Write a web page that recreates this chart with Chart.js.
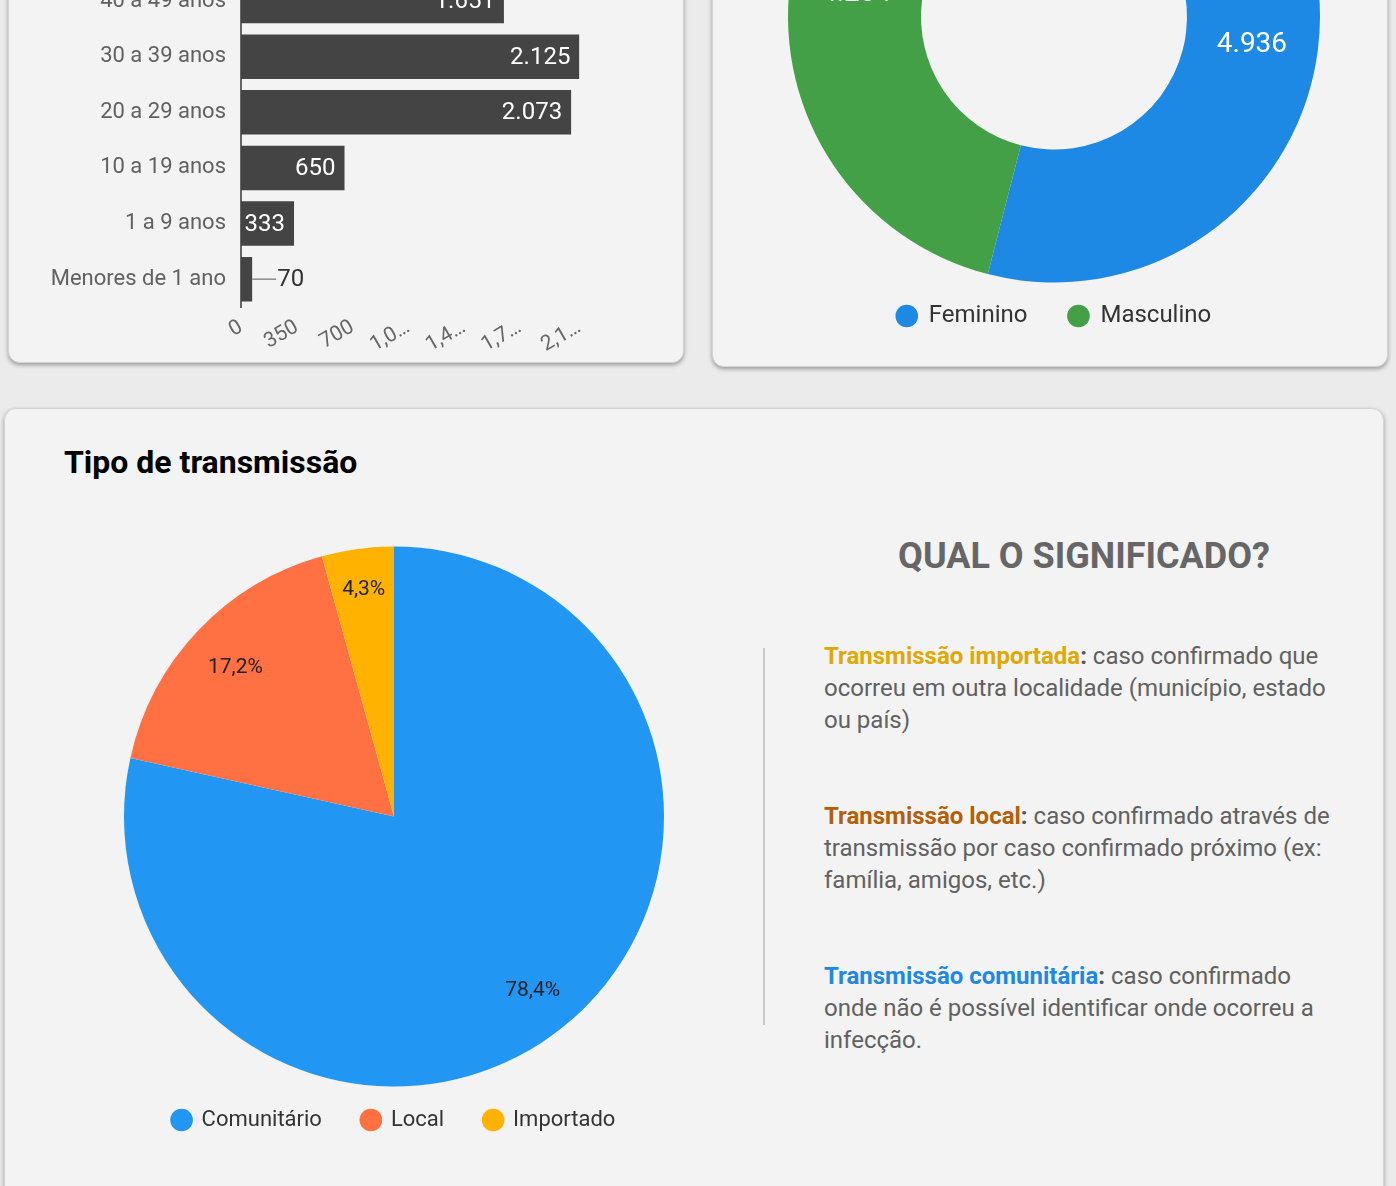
<!DOCTYPE html>
<html lang="pt-BR">
<head>
<meta charset="utf-8">
<title>Painel COVID-19</title>
<script src="https://cdn.jsdelivr.net/npm/chart.js@4.4.1/dist/chart.umd.min.js"></script>
<style>
  html, body { margin: 0; padding: 0; }
  body {
    width: 1396px; height: 1186px; overflow: hidden; position: relative;
    background: #ebebeb; font-family: Roboto, "Noto Sans", sans-serif;
  }
  .card {
    position: absolute; box-sizing: border-box; background: #f3f3f3;
    border: 1px solid #d4d4d4; border-radius: 12px;
    box-shadow: 0 2px 4px rgba(0,0,0,0.35);
  }
  #cardAge { left: 8px; top: -400px; width: 676px; height: 763px; }
  #cardSex { left: 712px; top: -400px; width: 676px; height: 767px; }
  #cardTrans { left: 4px; top: 408px; width: 1380px; height: 900px; }
  canvas { position: absolute; }
  #ageChart { left: 0px; top: -55.2px; }
  #sexChart { left: 754px; top: -260.5px; }
  #transChart { left: 94px; top: 534px; }
  .title {
    position: absolute; left: 64px; top: 442px; font-size: 32px; line-height: 40px;
    font-weight: 700; color: #000; white-space: nowrap;
  }
  .qual {
    position: absolute; left: 884px; top: 534px; width: 400px; text-align: center;
    font-size: 36px; line-height: 44px; font-weight: 700; color: #666; white-space: nowrap;
  }
  .divider { position: absolute; left: 763px; top: 648px; width: 2px; height: 377px; background: #c9c9c9; }
  .para {
    position: absolute; left: 824px; font-size: 24px; line-height: 32px; color: #616161; white-space: nowrap;
  }
  .para b { font-weight: 700; }
  .para .c { color: #555; font-weight: 700; }
</style>
</head>
<body>
<div class="card" id="cardAge"></div>
<div class="card" id="cardSex"></div>
<div class="card" id="cardTrans"></div>

<canvas id="ageChart" width="600" height="422"></canvas>
<canvas id="sexChart" width="600" height="598"></canvas>
<canvas id="transChart" width="600" height="607"></canvas>

<div class="title">Tipo de transmissão</div>
<div class="qual">QUAL O SIGNIFICADO?</div>
<div class="divider"></div>
<div class="para" style="top:640px"><b style="color:#e0a800">Transmissão importada</b><span class="c">:</span> caso confirmado que<br>ocorreu em outra localidade (município, estado<br>ou país)</div>
<div class="para" style="top:800px"><b style="color:#b45f06">Transmissão local</b><span class="c">:</span> caso confirmado através de<br>transmissão por caso confirmado próximo (ex:<br>família, amigos, etc.)</div>
<div class="para" style="top:960px"><b style="color:#1e88e5">Transmissão comunitária</b><span class="c">:</span> caso confirmado<br>onde não é possível identificar onde ocorreu a<br>infecção.</div>

<script>
// ---- Data ----
const ageCategories = ["40 a 49 anos", "30 a 39 anos", "20 a 29 anos", "10 a 19 anos", "1 a 9 anos", "Menores de 1 ano"];
const ageValues = [1651, 2125, 2073, 650, 333, 70];
const ageTickStep = 350;

const sexLabels = ["Feminino", "Masculino"];
const sexValues = [4936, 4204];
const sexColors = ["#1e88e5", "#43a047"];

const transLabels = ["Comunitário", "Local", "Importado"];
const transValues = [78.4, 17.2, 4.3];
const transColors = ["#2196f3", "#ff7043", "#ffb300"];

// ---- Helpers ----
function fmtDot(v) { return String(v).replace(/\B(?=(\d{3})+(?!\d))/g, "."); }
function fmtComma(v) { return String(v).replace(/\B(?=(\d{3})+(?!\d))/g, ","); }

Chart.defaults.font.family = "Roboto";
Chart.defaults.animation = false;

// ---- Bar chart (faixa etária) ----
const barLabelPlugin = {
  id: "barLabels",
  afterDatasetsDraw(chart) {
    const ctx = chart.ctx;
    const meta = chart.getDatasetMeta(0);
    ctx.save();
    ctx.font = "24px Roboto";
    ctx.textBaseline = "middle";
    meta.data.forEach((bar, i) => {
      const text = fmtDot(ageValues[i]);
      const w = ctx.measureText(text).width;
      const barW = bar.x - bar.base;
      if (w + 10 <= barW) {
        ctx.fillStyle = "#ffffff";
        ctx.textAlign = "right";
        ctx.fillText(text, bar.x - 9, bar.y + 1);
      } else {
        ctx.strokeStyle = "#8a8a8a";
        ctx.lineWidth = 1.5;
        ctx.beginPath();
        ctx.moveTo(bar.x, bar.y);
        ctx.lineTo(bar.x + 24, bar.y);
        ctx.stroke();
        ctx.fillStyle = "#333333";
        ctx.textAlign = "left";
        ctx.fillText(text, bar.x + 25, bar.y + 1);
      }
    });
    ctx.restore();
  }
};

new Chart(document.getElementById("ageChart"), {
  type: "bar",
  data: {
    labels: ageCategories,
    datasets: [{
      data: ageValues,
      backgroundColor: "#444444",
      barPercentage: 1.0,
      categoryPercentage: 0.8
    }]
  },
  options: {
    indexAxis: "y",
    responsive: false,
    animation: false,
    layout: { autoPadding: false, padding: { top: 28.2, right: 20, bottom: 0, left: 0 } },
    plugins: { legend: { display: false }, tooltip: { enabled: false } },
    scales: {
      x: {
        min: 0,
        bounds: "data",
        grid: { display: false, drawTicks: false },
        border: { display: false },
        afterFit(scale) { scale.height = 60; },
        ticks: {
          stepSize: ageTickStep,
          includeBounds: false,
          autoSkip: false,
          minRotation: 30,
          maxRotation: 30,
          padding: 8,
          color: "#666666",
          font: { size: 21 },
          callback(v) {
            const s = fmtComma(v);
            return s.length > 3 ? s.slice(0, 3) + "…" : s;
          }
        }
      },
      y: {
        grid: { display: false, drawTicks: false },
        border: { display: true, color: "#666666", width: 2 },
        afterFit(scale) { scale.width = 241; },
        ticks: { padding: 15, color: "#616161", font: { size: 22 } }
      }
    }
  },
  plugins: [barLabelPlugin]
});

// ---- Doughnut (sexo) ----
const donutLabelPlugin = {
  id: "donutLabels",
  afterDatasetsDraw(chart) {
    const ctx = chart.ctx;
    const meta = chart.getDatasetMeta(0);
    ctx.save();
    ctx.font = "28px Roboto";
    ctx.fillStyle = "#ffffff";
    ctx.textAlign = "center";
    ctx.textBaseline = "middle";
    meta.data.forEach((arc, i) => {
      const p = arc.getCenterPoint();
      ctx.fillText(fmtDot(sexValues[i]), p.x, p.y + 3);
    });
    ctx.restore();
  }
};

new Chart(document.getElementById("sexChart"), {
  type: "doughnut",
  data: {
    labels: sexLabels,
    datasets: [{
      data: sexValues,
      backgroundColor: sexColors,
      borderWidth: 0,
      radius: 266,
      cutout: "50%",
      clip: false
    }]
  },
  options: {
    responsive: false,
    animation: false,
    layout: { padding: { top: 30, right: 0, bottom: 0, left: 0 } },
    plugins: {
      tooltip: { enabled: false },
      legend: {
        position: "bottom",
        labels: {
          usePointStyle: true,
          pointStyle: "circle",
          boxWidth: 20,
          boxHeight: 16,
          padding: 41,
          color: "#333333",
          font: { size: 24 }
        }
      }
    }
  },
  plugins: [donutLabelPlugin]
});

// ---- Pie (tipo de transmissão) ----
const pieLabelPlugin = {
  id: "pieLabels",
  afterDatasetsDraw(chart) {
    const ctx = chart.ctx;
    const meta = chart.getDatasetMeta(0);
    const total = transValues.reduce((a, b) => a + b, 0);
    ctx.save();
    ctx.font = "21px Roboto";
    ctx.fillStyle = "#222222";
    ctx.textAlign = "center";
    ctx.textBaseline = "middle";
    meta.data.forEach((arc, i) => {
      const pr = arc.getProps(["x", "y", "startAngle", "endAngle", "outerRadius"], true);
      const mid = (pr.startAngle + pr.endAngle) / 2;
      const f = transValues[i] / total < 0.1 ? 0.86 : 0.815;
      const x = pr.x + Math.cos(mid) * pr.outerRadius * f;
      const y = pr.y + Math.sin(mid) * pr.outerRadius * f;
      ctx.fillText(transValues[i].toFixed(1).replace(".", ",") + "%", x + 1, y + 3);
    });
    ctx.restore();
  }
};

new Chart(document.getElementById("transChart"), {
  type: "pie",
  data: {
    labels: transLabels,
    datasets: [{
      data: transValues,
      backgroundColor: transColors,
      borderWidth: 0,
      radius: 270,
      clip: false
    }]
  },
  options: {
    responsive: false,
    animation: false,
    layout: { padding: { top: 30, right: 0, bottom: 0, left: 0 } },
    plugins: {
      tooltip: { enabled: false },
      legend: {
        position: "bottom",
        labels: {
          usePointStyle: true,
          pointStyle: "circle",
          boxWidth: 18,
          boxHeight: 16,
          padding: 40,
          color: "#333333",
          font: { size: 22 }
        }
      }
    }
  },
  plugins: [pieLabelPlugin]
});
</script>
</body>
</html>
